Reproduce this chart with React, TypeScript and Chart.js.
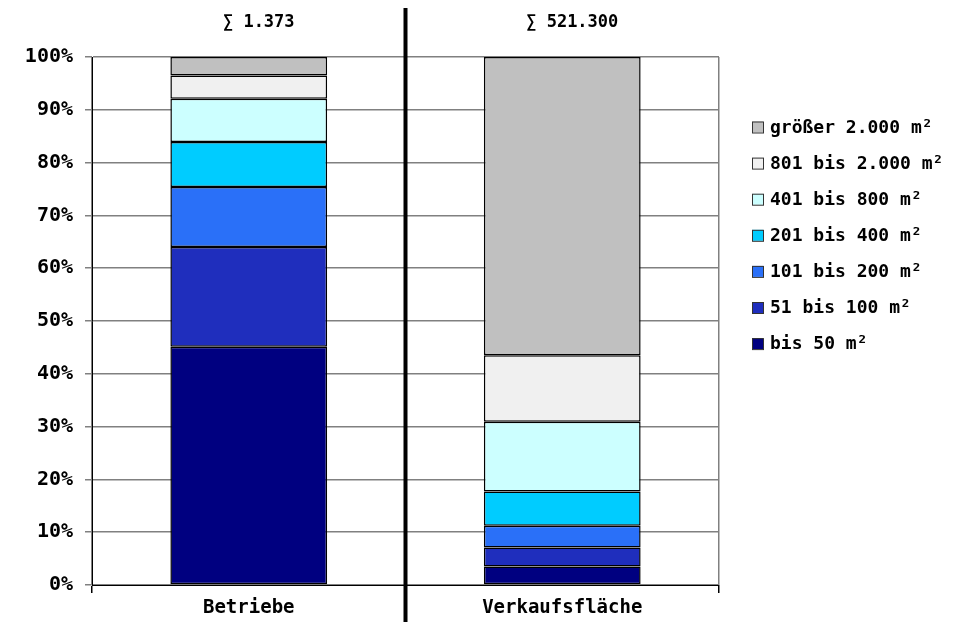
import React, { useEffect, useRef } from "react";
import { Chart, registerables } from "chart.js";

Chart.register(...registerables);

const categories = ["Betriebe", "Verkaufsfläche"];
const totals = ["∑ 1.373", "∑ 521.300"];
const yTicks = [0, 10, 20, 30, 40, 50, 60, 70, 80, 90, 100];

const seriesLabels = [
  "bis 50 m²",
  "51 bis 100 m²",
  "101 bis 200 m²",
  "201 bis 400 m²",
  "401 bis 800 m²",
  "801 bis 2.000 m²",
  "größer 2.000 m²",
];
const bis50 = [45.1, 3.5];
const bis100 = [18.9, 3.6];
const bis200 = [11.4, 4.1];
const bis400 = [8.5, 6.5];
const bis800 = [8.2, 13.2];
const bis2000 = [4.4, 12.6];
const over2000 = [3.5, 56.5];
const seriesValues = [bis50, bis100, bis200, bis400, bis800, bis2000, over2000];
const seriesColors = ["#000080", "#1F2EBD", "#2A70F8", "#00CCFF", "#CCFFFF", "#F0F0F0", "#C0C0C0"];

const FONT = "'DejaVu Sans Mono', monospace";

const overlayPlugin = {
  id: "overlay",
  afterDraw(chart: any) {
    const ctx = chart.ctx;
    const x = chart.scales.x;
    ctx.save();
    // sums above columns
    ctx.fillStyle = "#000";
    ctx.font = `bold 17px ${FONT}`;
    ctx.textAlign = "center";
    ctx.textBaseline = "middle";
    totals.forEach((t, i) => {
      ctx.fillText(t, x.getPixelForValue(i) + 10, 23);
    });
    // divider
    const mid = (x.getPixelForValue(0) + x.getPixelForValue(1)) / 2;
    ctx.fillStyle = "#000";
    ctx.fillRect(mid - 2, 8, 4, chart.height - 8);
    // legend
    const ds = chart.data.datasets;
    ctx.font = `bold 18px ${FONT}`;
    ctx.textAlign = "left";
    for (let k = 0; k < ds.length; k++) {
      const d = ds[ds.length - 1 - k];
      const cy = 127 + k * 36.1;
      ctx.fillStyle = d.backgroundColor;
      ctx.fillRect(752, cy - 5.5, 11, 11);
      ctx.strokeStyle = "#333";
      ctx.lineWidth = 1;
      ctx.strokeRect(752.5, cy - 5, 11, 11);
      ctx.fillStyle = "#000";
      ctx.fillText(d.label, 770, cy + 1);
    }
    ctx.restore();
  },
};

export default function App() {
  const ref = useRef<HTMLCanvasElement>(null);
  useEffect(() => {
    document.body.style.margin = "0";
    const chart = new Chart(ref.current!, {
      type: "bar",
      data: {
        labels: categories,
        datasets: seriesLabels.map((l, i) => ({
          label: l,
          data: seriesValues[i],
          backgroundColor: seriesColors[i],
          borderColor: "#000",
          borderWidth: 1.5,
          borderSkipped: false,
          barPercentage: 1,
          categoryPercentage: 0.5,
        })),
      },
      options: {
        animation: false,
        responsive: true,
        maintainAspectRatio: false,
        layout: { padding: { top: 57, right: 235, left: 0, bottom: 0 } },
        plugins: { legend: { display: false }, tooltip: { enabled: false } },
        scales: {
          x: {
            stacked: true,
            afterFit: (s: any) => { s.height = 37; },
            grid: { display: true, color: "#808080", lineWidth: 1.5, tickColor: "#000", tickLength: 8, offset: true },
            border: { display: true, color: "#000", width: 1 },
            ticks: { color: "#000", font: { family: FONT, size: 19, weight: "bold" }, padding: 4 },
          },
          y: {
            stacked: true,
            min: 0,
            max: 100,
            afterFit: (s: any) => { s.width = 92; },
            afterBuildTicks: (s: any) => { s.ticks = yTicks.map((v) => ({ value: v })); },
            grid: { color: "#808080", lineWidth: 1.5, tickColor: "#808080", tickLength: 7 },
            border: { display: true, color: "#000", width: 1 },
            ticks: {
              color: "#000",
              font: { family: FONT, size: 20, weight: "bold" },
              padding: 12,
              callback: (v: any) => v + "%",
            },
          },
        },
      },
      plugins: [overlayPlugin],
    });
    return () => chart.destroy();
  }, []);
  return (
    <div style={{ width: 954, height: 622, position: "relative" }}>
      <canvas ref={ref} />
    </div>
  );
}
